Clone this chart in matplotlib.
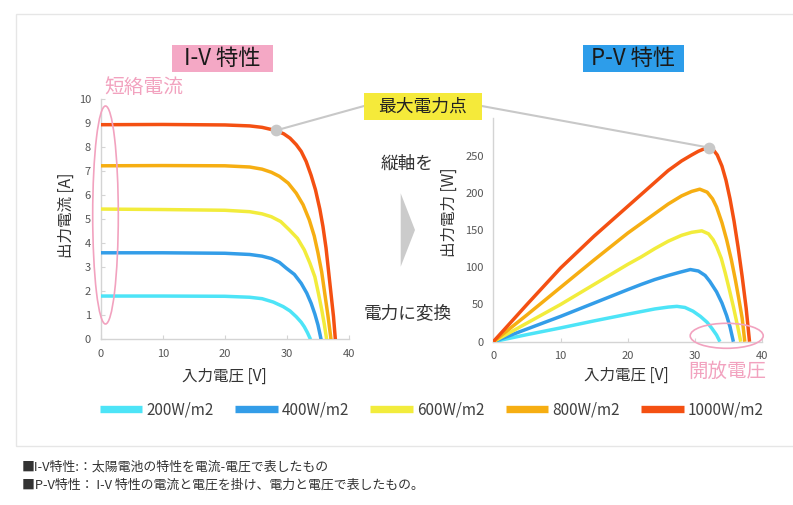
import numpy as np
import matplotlib
matplotlib.use('Agg')
import matplotlib.pyplot as plt
from matplotlib.patches import Rectangle, Ellipse, Polygon, ConnectionPatch
from matplotlib.lines import Line2D

plt.rcParams['font.family'] = ['Noto Sans CJK JP', 'DejaVu Sans']

# irradiance series
labels = ['200W/m2', '400W/m2', '600W/m2', '800W/m2', '1000W/m2']
colors = ['#4DE4F7', '#339DE8', '#F2EC3C', '#F6AE12', '#F45012']

# I-V curves (voltage [V], current [A])
iv_v = [
    [0, 10, 20, 24, 26, 27.8, 29.4, 30.5, 31.5, 32.3, 32.8, 33.3, 33.8],
    [0, 10, 20, 24, 26, 27.5, 28.8, 29.9, 31.2, 32.3, 33.2, 33.9, 34.5, 35.0, 35.5],
    [0, 10, 20, 24, 26, 27.5, 29, 30.4, 31.7, 32.8, 33.7, 34.5, 35.1, 35.6, 36.0, 36.4],
    [0, 10, 20, 24, 26, 27.5, 28.8, 30.2, 31.5, 32.6, 33.6, 34.4, 35.0, 35.6, 36.1, 36.6, 37.1],
    [0, 10, 20, 24, 26, 28.2, 29.5, 30.5, 31.5, 32.3, 33.1, 33.9, 34.6, 35.3, 35.8, 36.3, 36.7, 37.1, 37.5, 37.8],
]
iv_i = [
    [1.8, 1.8, 1.79, 1.75, 1.69, 1.55, 1.36, 1.18, 0.94, 0.71, 0.52, 0.28, 0],
    [3.6, 3.6, 3.58, 3.53, 3.46, 3.36, 3.2, 2.96, 2.7, 2.33, 1.92, 1.5, 1.05, 0.6, 0],
    [5.42, 5.4, 5.37, 5.31, 5.22, 5.1, 4.9, 4.55, 4.2, 3.72, 3.17, 2.6, 1.88, 1.24, 0.66, 0],
    [7.22, 7.23, 7.22, 7.17, 7.08, 6.95, 6.78, 6.5, 6.08, 5.6, 4.97, 4.3, 3.6, 2.8, 1.9, 1.0, 0],
    [8.93, 8.94, 8.92, 8.88, 8.82, 8.69, 8.55, 8.37, 8.1, 7.82, 7.4, 6.82, 6.22, 5.42, 4.7, 3.8, 2.85, 1.9, 0.95, 0],
]

# P-V curves (voltage [V], power [W])
pv_v = [
    [0, 5, 10, 15, 20, 22, 24, 26, 27.3, 28.5, 29.7, 30.8, 31.8, 32.5, 33.2, 33.7],
    [0, 5, 10, 15, 20, 22, 24, 26, 27.8, 29.3, 30.5, 31.5, 32.2, 33.2, 34.0, 34.7, 35.2, 35.7],
    [0, 5, 10, 15, 20, 22, 24, 26, 28, 29.5, 31.0, 32.0, 32.7, 33.2, 33.9, 34.5, 35.1, 35.7, 36.3, 36.8],
    [0, 5, 10, 15, 20, 22, 24, 26, 28, 29.5, 30.7, 31.8, 32.6, 33.2, 34.0, 34.7, 35.4, 36.0, 36.5, 37.0, 37.4],
    [0, 5, 10, 15, 20, 22, 24, 26, 28, 29.5, 30.5, 31.3, 32.0, 32.7, 33.3, 34.0, 34.6, 35.2, 35.8, 36.4, 37.0, 37.6, 38.1],
]
pv_p = [
    [0, 9.5, 18.5, 28, 37, 40.5, 44, 46.5, 47.5, 46, 41, 34, 26, 18, 9, 0],
    [0, 17, 34, 52, 70, 77, 83.5, 89, 93.5, 97, 95, 89, 81, 67, 52, 35, 20, 0],
    [0, 25, 50, 77, 104, 114, 125, 135, 143, 147, 149, 145, 137, 128, 112, 92, 70, 47, 22, 0],
    [0, 36, 73, 110, 146, 159, 172, 185, 196, 202, 205, 201, 192, 181, 160, 137, 110, 83, 58, 32, 0],
    [0, 50, 99, 142, 182, 198, 214, 230, 243, 251, 256, 259, 261, 258, 251, 236, 217, 192, 162, 127, 88, 45, 0],
]

# maximum power point marked on the I-V chart
mpp_iv = (28.2, 8.69)

W, H = 793, 505
fig = plt.figure(figsize=(W / 100, H / 100), dpi=100)


def fx(px):
    return px / W


def fy(py):
    return 1 - py / H


# light frame around the chart area
fig.add_artist(Rectangle((fx(16), fy(445.7)), fx(800) - fx(16), fy(14.3) - fy(445.7),
                         transform=fig.transFigure, fill=False, ec='#E6E6E6', lw=1))

ax1 = fig.add_axes([fx(100.7), fy(339.3), fx(349) - fx(100.7), fy(99) - fy(339.3)])
ax2 = fig.add_axes([fx(493.3), fy(341.7), fx(762.3) - fx(493.3), fy(118.5) - fy(341.7)])

for k in range(5):
    ax1.plot(iv_v[k], iv_i[k], color=colors[k], lw=2.5, solid_capstyle='butt',
             solid_joinstyle='round', zorder=3)
    ax2.plot(pv_v[k], pv_p[k], color=colors[k], lw=2.5, solid_capstyle='butt',
             solid_joinstyle='round', zorder=3)

ax1.set_xlim(0, 40)
ax1.set_ylim(0, 10)
ax1.set_xticks([0, 10, 20, 30, 40])
ax1.set_yticks(range(0, 11))
ax2.set_xlim(0, 40)
ax2.set_ylim(0, 300)
ax2.set_xticks([0, 10, 20, 30, 40])
ax2.set_yticks([0, 50, 100, 150, 200, 250])

for ax in (ax1, ax2):
    for s in ('top', 'right'):
        ax.spines[s].set_visible(False)
    for s in ('left', 'bottom'):
        ax.spines[s].set_color('#D4D4D4')
        ax.spines[s].set_linewidth(1)
    ax.tick_params(direction='in', length=3, color='#D4D4D4', labelsize=8,
                   labelcolor='#555555', pad=7)
    ax.patch.set_alpha(0)
ax2.tick_params(axis='y', length=0)

ax1.set_xlabel('入力電圧 [V]', fontsize=11.2, color='#333333', va='center')
ax1.xaxis.set_label_coords(0.50, -0.156)
ax1.set_ylabel('出力電流 [A]', fontsize=11.2, color='#333333', va='center')
ax1.yaxis.set_label_coords(-0.14, 0.518)
ax2.set_xlabel('入力電圧 [V]', fontsize=11.2, color='#333333', va='center')
ax2.xaxis.set_label_coords(0.493, -0.149)
ax2.set_ylabel('出力電力 [W]', fontsize=11.2, color='#333333', va='center')
ax2.yaxis.set_label_coords(-0.165, 0.582)

# maximum power points
imax = int(np.argmax(pv_p[4]))
mpp_pv = (pv_v[4][imax], pv_p[4][imax])
ax1.scatter([mpp_iv[0]], [mpp_iv[1]], s=55, color='#C8C8C8', zorder=6, clip_on=False)
ax2.scatter([mpp_pv[0]], [mpp_pv[1]], s=55, color='#C8C8C8', zorder=6, clip_on=False)

# title boxes
fig.add_artist(Rectangle((fx(171.7), fy(71.7)), fx(273.3) - fx(171.7), fy(45) - fy(71.7),
                         transform=fig.transFigure, color='#F4A8C5', lw=0))
fig.text(fx(222.5), fy(58.5), 'I-V 特性', fontsize=16, ha='center', va='center', color='#1A1A1A')
fig.add_artist(Rectangle((fx(582.7), fy(71.7)), fx(684.3) - fx(582.7), fy(45) - fy(71.7),
                         transform=fig.transFigure, color='#2D9DEA', lw=0))
fig.text(fx(633.5), fy(58.5), 'P-V 特性', fontsize=16, ha='center', va='center', color='#1A1A1A')

# max power point label and leader lines
fig.add_artist(Rectangle((fx(364), fy(120)), fx(481.7) - fx(364), fy(92.7) - fy(120),
                         transform=fig.transFigure, color='#F5EA3A', lw=0, zorder=4))
fig.text(fx(423), fy(106.5), '最大電力点', fontsize=12.8, ha='center', va='center',
         color='#222222', zorder=5)
fig.add_artist(ConnectionPatch(xyA=mpp_iv, coordsA=ax1.transData,
                               xyB=(fx(364), fy(106)), coordsB=fig.transFigure,
                               color='#C8C8C8', lw=1.5, zorder=2))
fig.add_artist(ConnectionPatch(xyA=mpp_pv, coordsA=ax2.transData,
                               xyB=(fx(481.7), fy(106)), coordsB=fig.transFigure,
                               color='#C8C8C8', lw=1.5, zorder=2))

# middle annotation with arrow
fig.text(fx(406.7), fy(164), '縦軸を', fontsize=12.7, ha='center', va='center', color='#333333')
fig.text(fx(408), fy(313), '電力に変換', fontsize=12.7, ha='center', va='center', color='#333333')
fig.add_artist(Polygon([(fx(400.7), fy(193.3)), (fx(415), fy(230)), (fx(400.7), fy(266.7))],
                       closed=True, transform=fig.transFigure, color='#CBCBCB', lw=0))

# short-circuit current / open-circuit voltage highlights
pink = '#F2A2BF'
fig.text(fx(104), fy(88), '短絡電流', fontsize=14.2, ha='left', va='center', color=pink)
fig.add_artist(Ellipse((fx(105.5), fy(215)), fx(25.6), 218 / H, transform=fig.transFigure,
                       fill=False, ec=pink, lw=1.2, zorder=5))
fig.text(fx(727.5), fy(371), '開放電圧', fontsize=14, ha='center', va='center', color=pink)
fig.add_artist(Ellipse((fx(726.7), fy(335.8)), fx(73), 25 / H, transform=fig.transFigure,
                       fill=False, ec=pink, lw=1.2, zorder=5))

# legend
handles = [Line2D([], [], color=c, lw=5.3, solid_capstyle='butt') for c in colors]
fig.legend(handles, labels, loc='center', bbox_to_anchor=(fx(431.5), fy(410)), ncol=5,
           frameon=False, fontsize=11, handlelength=2.8, handletextpad=0.25,
           columnspacing=1.4, labelcolor='#404040')

# footnotes
fig.text(fx(21.7), fy(467.3), '■I-V特性:：太陽電池の特性を電流-電圧で表したもの',
         fontsize=9.3, ha='left', va='center', color='#333333')
fig.text(fx(21.7), fy(485), '■P-V特性： I-V 特性の電流と電圧を掛け、電力と電圧で表したもの。',
         fontsize=9.3, ha='left', va='center', color='#333333')

fig.savefig('out.png', dpi=100)
